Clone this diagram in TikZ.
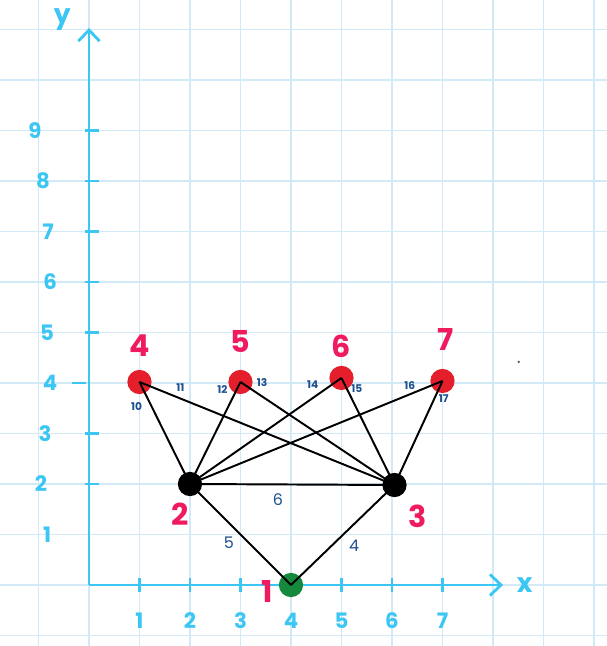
\documentclass[tikz,border=0pt]{standalone}
\usepackage{fontspec}
\setmainfont{Poppins}
\usepackage{tikz}
\usepackage{xcolor}
\usetikzlibrary{arrows.meta,positioning,calc}
\definecolor{gridblue}{HTML}{D2EAF8}
\definecolor{axisblue}{HTML}{3CC6F4}
\definecolor{vred}    {HTML}{E41E2B}
\definecolor{vgreen}  {HTML}{168A3C}
\definecolor{tagpink} {HTML}{F01A5E}
\definecolor{wblue}   {HTML}{1D4F8E}
\tikzset{
  vtx/.style     ={circle, inner sep=0pt, minimum size=4.8mm},
  redv/.style    ={vtx, fill=vred},
  blackv/.style  ={vtx, fill=black},
  greenv/.style  ={vtx, fill=vgreen},
  tag/.style     ={text=tagpink, inner sep=0pt,
                   font=\fontsize{17}{19}\selectfont\bfseries},
  wt/.style      ={text=wblue, inner sep=2pt,
                   font=\fontsize{6}{7}\selectfont\bfseries},
  bigwt/.style   ={wt, font=\fontsize{9}{10}\selectfont},
  edge/.style    ={line width=1.1pt, black},
  axis/.style    ={axisblue, line width=1.6pt,
                   -{Straight Barb[length=2.2mm,width=4.2mm]}},
  tick/.style    ={axisblue, line width=1.3pt},
  axnum/.style   ={text=axisblue, font=\fontsize{12}{14}\selectfont\bfseries},
  axname/.style  ={text=axisblue, font=\fontsize{15}{17}\selectfont\bfseries},
}

\begin{document}
\begin{tikzpicture}
    \useasboundingbox (-1.762,-1.208) rectangle (10.257,11.584);
    \draw[gridblue, line width=0.7pt] (-1.762,-1.208) grid (10.257,11.584);

    % axes
    \coordinate (O) at (0,0);
    \coordinate (xend) at (8.2,0);
    \coordinate (yend) at (0,11.03);
    \draw[axis] (O) -- (xend);
    \draw[axis] (O) -- (yend);
    \node[axname] (xlab) at (8.63,0) {x};
    \node[axname] (ylab) at (-0.53,11.19) {y};
    \foreach \i in {1,...,7} {
      \draw[tick] (\i,-.13) -- (\i,.13);
      \node[axnum] (xn\i) at (\i,-.7) {\i};
    }
    \foreach \j/\dx in {2/0,3/0,4/-.25,5/0,6/0,7/0,8/0,9/0}
      \draw[tick] (\dx-.08,\j) -- (\dx+.2,\j);
    \foreach \j/\px in {1/-.83,2/-.95,3/-.87,4/-.77,5/-.83,6/-.77,7/-.81,8/-.91,9/-1.07}
      \node[axnum] (yn\j) at (\px,\j) {\j};

    % vertices
    \node[greenv] (n1) at (4,0) {};
    \node[blackv] (n2) at (2,2) {};
    \node[blackv] (n3) at (6.05,1.98) {};
    \node[redv]   (n4) at (1,4.02) {};
    \node[redv]   (n5) at (3,4.02) {};
    \node[redv]   (n6) at (5,4.1) {};
    \node[redv]   (n7) at (7,4.04) {};

    \node[tag, left=1mm of n1, yshift=-1.2mm] (t1) {1};
    \node[tag, below=1.2mm of n2, xshift=-2mm] (t2) {2};
    \node[tag, below=1.4mm of n3, xshift=4.5mm] (t3) {3};
    \node[tag, above=2.6mm of n4] (t4) {4};
    \node[tag, above=3.2mm of n5] (t5) {5};
    \node[tag, above=1.5mm of n6] (t6) {6};
    \node[tag, above=3.4mm of n7, xshift=.7mm] (t7) {7};

    % edges
    \draw[edge] (n3.center) -- (n1.center) node[bigwt, pos=.61, right=2.6mm] (w4) {4};
    \draw[edge] (n2.center) -- (n1.center) node[bigwt, pos=.58, left=2mm] (w5) {5};
    \draw[edge] (n2.center) -- (n3.center) node[bigwt, pos=.43, below=1mm] (w6) {6};
    \draw[edge] (n4.center) -- (n2.center) node[wt, pos=.24, left=1mm] (w10) {10};
    \draw[edge] (n4.center) -- (n3.center) node[wt, pos=.16, above=.5mm] (w11) {11};
    \draw[edge] (n5.center) -- (n2.center) node[wt, pos=.07, left=1mm] (w12) {12};
    \draw[edge] (n5.center) -- (n3.center) node[wt, pos=.14, above=1mm] (w13) {13};
    \draw[edge] (n6.center) -- (n2.center) node[wt, pos=.19, above=1mm] (w14) {14};
    \draw[edge] (n6.center) -- (n3.center) node[wt, pos=.1, right] (w15) {15};
    \draw[edge] (n7.center) -- (n2.center) node[wt, pos=.13, above=0pt] (w16) {16};
    \draw[edge] (n7.center) -- (n3.center) node[wt, pos=.17, right] (w17) {17};

    \fill[black!70] (8.51,4.42) circle (0.025);
  \end{tikzpicture}
\end{document}
